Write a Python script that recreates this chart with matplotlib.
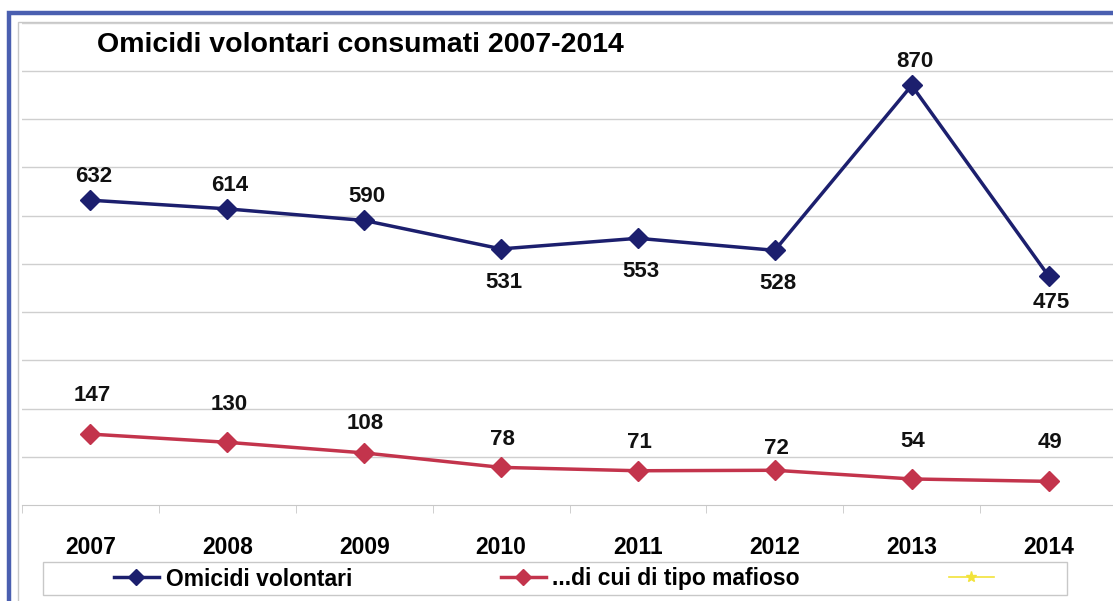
#!/usr/bin/env python3
"""
Omicidi volontari consumati 2007-2014, line chart with data labels.
"""

import matplotlib.pyplot as plt
from matplotlib.lines import Line2D
from matplotlib.patches import Rectangle

plt.rcParams["font.family"] = ["Liberation Sans", "DejaVu Sans"]

# Data
years = ["2007", "2008", "2009", "2010", "2011", "2012", "2013", "2014"]
omicidi = [632, 614, 590, 531, 553, 528, 870, 475]
mafiosi = [147, 130, 108, 78, 71, 72, 54, 49]
series_names = ["Omicidi volontari", "...di cui di tipo mafioso", ""]
title = "Omicidi volontari consumati 2007-2014"

# label offsets in points (vertical), blue above/below
blue_off = [17, 17, 17, -24, -24, -24, 17, -19]
red_off = [28, 27, 21, 20, 20, 16, 27, 28]

W, H = 1113, 601
fig = plt.figure(figsize=(W / 100, H / 100), dpi=100)

# outer blue frame and inner gray frame
fig.add_artist(Rectangle((9 / W, -0.1), 1.2, 1 - 13 / H + 0.1, transform=fig.transFigure,
                         facecolor="white", edgecolor="#4a5fb0", linewidth=3.2, zorder=0))
fig.add_artist(Rectangle((18 / W, -0.1), 1.2, 1 - 22 / H + 0.1, transform=fig.transFigure,
                         facecolor="none", edgecolor="#c8c8c8", linewidth=1, zorder=0))

ax = fig.add_axes([22 / W, 1 - 505 / H, (1117 - 22) / W, (505 - 22.7) / H])
ax.set_facecolor("none")

x = range(len(years))
blue = "#1c1f6e"
red = "#c3344c"
ax.plot(x, omicidi, color=blue, lw=2.5, marker="D", ms=10, zorder=3)
ax.plot(x, mafiosi, color=red, lw=2.5, marker="D", ms=10, zorder=3)

for i, v in enumerate(omicidi):
    ax.annotate(str(v), (i, v), xytext=(2, blue_off[i]), textcoords="offset points",
                ha="center", va="center", fontsize=16, fontweight="bold", color="#111111")
for i, v in enumerate(mafiosi):
    ax.annotate(str(v), (i, v), xytext=(1, red_off[i]), textcoords="offset points",
                ha="center", va="center", fontsize=16, fontweight="bold", color="#111111")

ax.set_xlim(-0.5, len(years) - 0.5)
ax.set_ylim(0, 1000)
ax.set_yticks(range(100, 1001, 100))
ax.grid(axis="y", color="#cfcfcf", lw=1)
ax.tick_params(axis="y", left=False, labelleft=False)
ax.set_xticks(list(x))
ax.set_xticklabels(years, fontsize=16.5, fontweight="bold")
ax.tick_params(axis="x", length=0, pad=22)
ax.set_xticks([i - 0.5 for i in range(len(years) + 1)], minor=True)
ax.tick_params(axis="x", which="minor", length=6, color="#c8c8c8", direction="out")
for s in ["top", "right", "left"]:
    ax.spines[s].set_visible(False)
ax.spines["bottom"].set_color("#c8c8c8")

ax.text(97 / W, 1 - 45 / H, title, transform=fig.transFigure, fontsize=20.5,
        fontweight="bold", va="center", ha="left")

# legend
fig.add_artist(Rectangle((43 / W, 1 - 595 / H), (1067 - 43) / W, 33 / H, transform=fig.transFigure,
                         facecolor="white", edgecolor="#c8c8c8", linewidth=1))
handles = [
    Line2D([], [], color=blue, lw=2.5, marker="D", ms=8),
    Line2D([], [], color=red, lw=2.5, marker="D", ms=8),
    Line2D([], [], color="#f2e33a", lw=1.2, marker="*", ms=8),
]
fig.legend(handles, series_names, loc="center left", bbox_to_anchor=(114 / W, 1 - 579 / H),
           frameon=False, ncol=3, prop={"weight": "bold", "size": 16.5},
           handlelength=1.95, handletextpad=0.3, columnspacing=6.5, borderpad=0, borderaxespad=0)

plt.savefig("out.png", dpi=100)
